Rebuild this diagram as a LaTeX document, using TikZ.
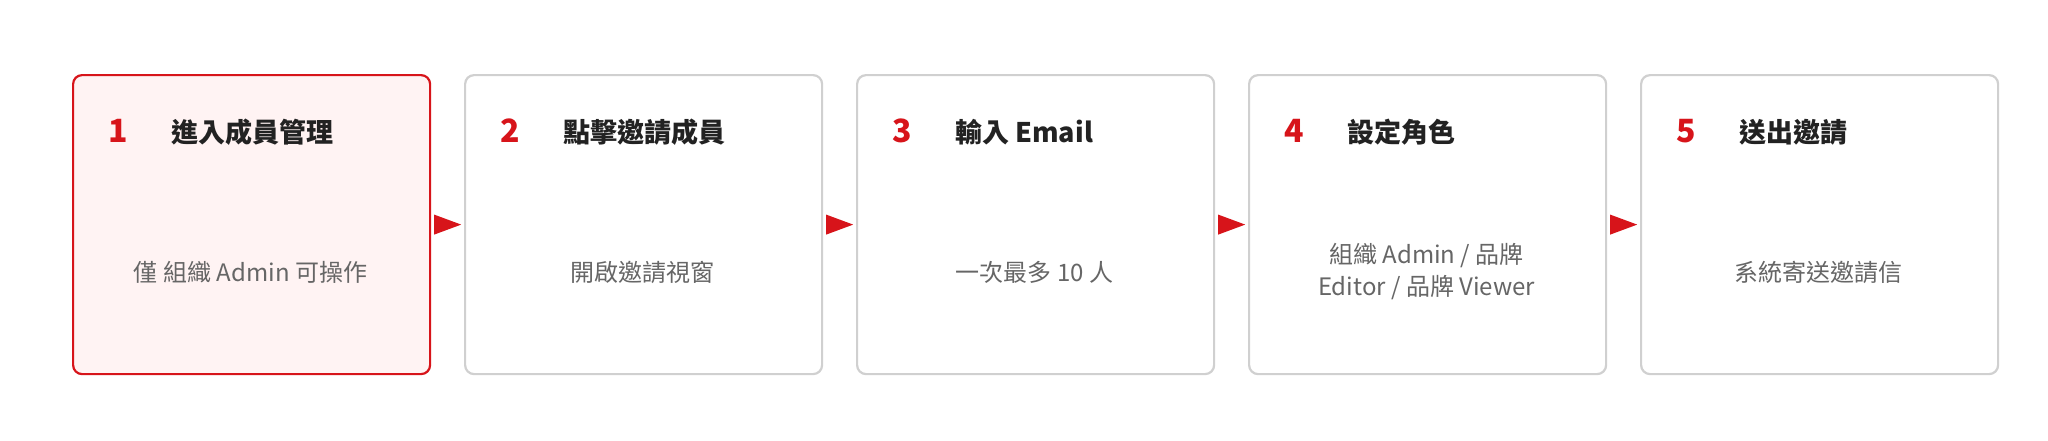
\documentclass[tikz,border=0pt]{standalone}
\usepackage{fontspec}
\setmainfont{Noto Sans CJK TC}
\newfontfamily\cjkb[BoldFont={Noto Sans CJK TC Bold}]{Noto Sans CJK TC}
\begin{document}
\definecolor{accent}{HTML}{D7141A}
\definecolor{pinkbg}{HTML}{FFF3F3}
\definecolor{bordergray}{HTML}{D0D0D0}
\definecolor{subgray}{HTML}{666666}
\definecolor{titlec}{HTML}{222222}
\begin{tikzpicture}[x=1pt,y=-1pt,
  box/.style={draw=bordergray,line width=2.2pt,rounded corners=9pt,fill=white,minimum width=357pt,minimum height=299pt,anchor=north west,inner sep=0pt},
  hot/.style={box,draw=accent,fill=pinkbg},
  num/.style={anchor=base west,text=accent,font=\fontsize{32}{36}\selectfont\bfseries,inner sep=0pt},
  ttl/.style={anchor=base west,text=titlec,font=\fontsize{27}{32}\selectfont\bfseries,inner sep=0pt},
  sub/.style={text=subgray,font=\fontsize{24}{32}\selectfont,align=center,inner sep=0pt},
  arr/.style={fill=accent,draw=none}]
\useasboundingbox (0,0) rectangle (2048,440);
\foreach \i/\t/\s in {1/進入成員管理/僅 組織 Admin 可操作,2/點擊邀請成員/開啟邀請視窗,3/輸入 Email/一次最多 10 人,4/設定角色/{組織 Admin / 品牌\\Editor / 品牌 Viewer},5/送出邀請/系統寄送邀請信}{
  \pgfmathsetmacro{\xx}{72+(\i-1)*392}
  \ifnum\i=1 \node[hot] (b\i) at (\xx,74) {}; \else \node[box] (b\i) at (\xx,74) {}; \fi
  \node[num] (n\i) at (\xx+36,142) {\i};
  \node[ttl] (t\i) at (\xx+99,142) {\t};
  \node[sub] (s\i) at (\xx+178.5,272) {\s};
}
\foreach \i/\j in {1/2,2/3,3/4,4/5}{
  \path (b\i.east) ++(3,0) coordinate (a\i);
  \fill[arr] (a\i) ++(0,-10) -- ++(27,10) -- ++(-27,10) -- cycle;
}
\end{tikzpicture}
\end{document}
